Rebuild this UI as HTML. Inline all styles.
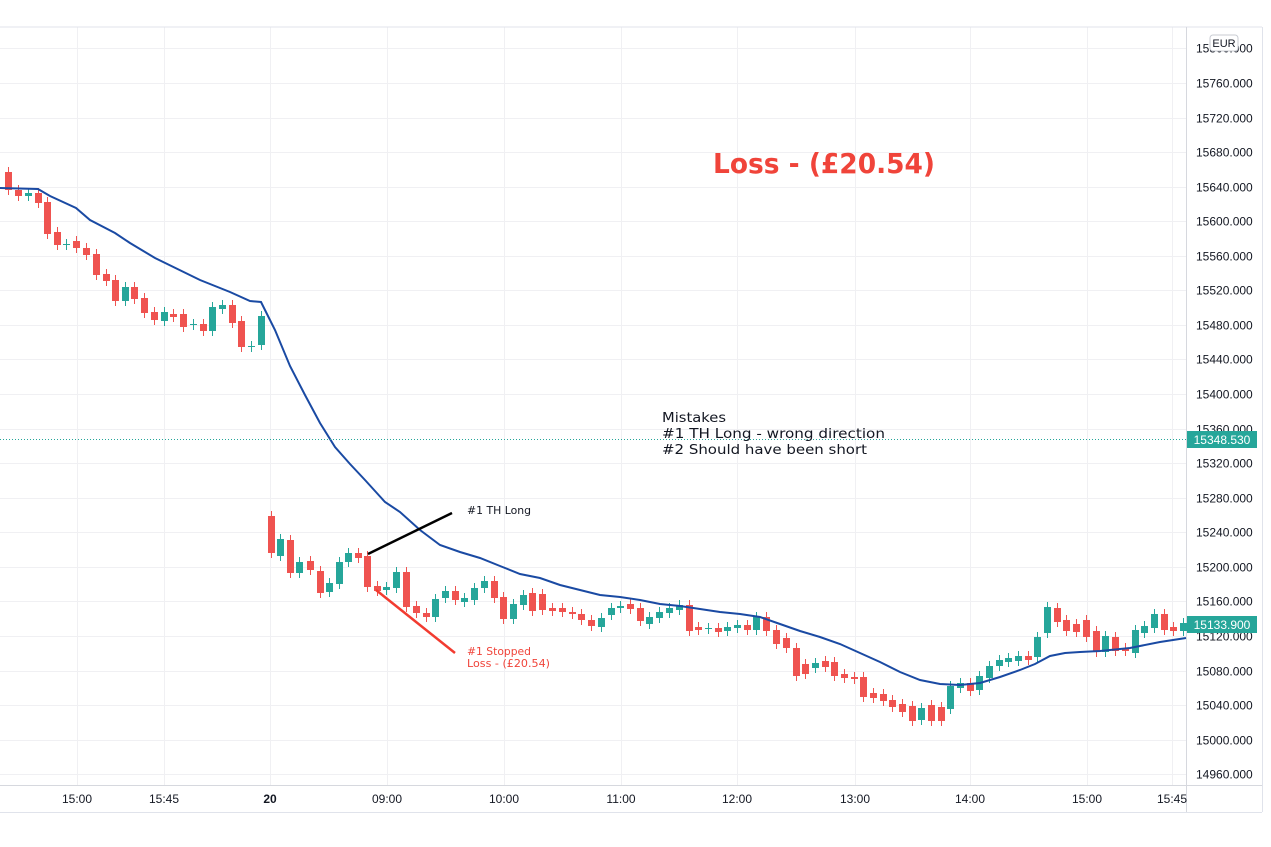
<!DOCTYPE html>
<html><head><meta charset="utf-8"><style>
html,body{margin:0;padding:0;background:#fff;width:1271px;height:847px;overflow:hidden}
svg{display:block;font-family:"Liberation Sans",sans-serif}
</style></head><body>
<svg id="s" width="1271" height="847" viewBox="0 0 1271 847" xmlns="http://www.w3.org/2000/svg">
<rect x="0" y="0" width="1271" height="847" fill="#fff"/>
<g id="grid" stroke="#f0f0f3" stroke-width="1"></g>
<line x1="0" y1="27" x2="1262" y2="27" stroke="#e0e3eb"/>
<line x1="1186.5" y1="27" x2="1186.5" y2="812" stroke="#d6d8de"/>
<line x1="1262.5" y1="27" x2="1262.5" y2="812" stroke="#e0e3eb"/>
<line x1="0" y1="785.5" x2="1262" y2="785.5" stroke="#d6d8de"/>
<line x1="0" y1="812.5" x2="1262" y2="812.5" stroke="#e0e3eb"/>
<g id="c"></g>
<polyline fill="none" stroke="#1a4aa3" stroke-width="2" points="0,188 38,189 50,196 76,208 90,220 115,233 130,243 155,258 200,280 230,292 250,301 261,302 275,330 290,366 305,395 320,423 335,447 350,464 365,480 385,502 400,512 420,530 440,545 460,552 480,558 500,566 520,574 540,578 560,585 580,590 600,595 620,597 640,600 660,604 680,606 700,609 720,612 740,614 760,617 780,624 800,631 820,637 840,644 860,653 880,662 900,672 920,680 940,684 960,685 980,683 1000,677 1020,670 1035,664 1050,656 1065,653 1080,652 1100,651 1130,648 1160,642 1186,638"/>
<line x1="0" y1="439.5" x2="1186" y2="439.5" stroke="#26a69a" stroke-dasharray="1,2"/>
<line x1="368" y1="554" x2="452" y2="513" stroke="#000" stroke-width="2.5"/>
<line x1="376" y1="590" x2="455" y2="653" stroke="#f23b30" stroke-width="2.5"/>
<g font-family="'DejaVu Sans',sans-serif">
<text x="467" y="514" font-size="11" fill="#131722" textLength="64" lengthAdjust="spacingAndGlyphs">#1 TH Long</text>
<text x="467" y="655" font-size="11" fill="#f0443a" textLength="64" lengthAdjust="spacingAndGlyphs">#1 Stopped</text>
<text x="467" y="667" font-size="11" fill="#f0443a" textLength="83" lengthAdjust="spacingAndGlyphs">Loss - (£20.54)</text>
<text x="713" y="173" font-size="28" font-weight="bold" fill="#f0443a" textLength="222" lengthAdjust="spacingAndGlyphs">Loss - (£20.54)</text>
<text x="662" y="422" font-size="13" fill="#131722" textLength="64" lengthAdjust="spacingAndGlyphs">Mistakes</text>
<text x="662" y="438" font-size="13" fill="#131722" textLength="223" lengthAdjust="spacingAndGlyphs">#1  TH Long - wrong direction</text>
<text x="662" y="454" font-size="13" fill="#131722" textLength="205" lengthAdjust="spacingAndGlyphs">#2  Should have been short</text>
</g>
<g id="ax" font-size="12" fill="#131722"></g>
<rect x="1187" y="431" width="70" height="17" fill="#26a69a"/>
<text x="1222" y="444" font-size="12" fill="#fff" text-anchor="middle">15348.530</text>
<rect x="1187" y="616" width="70" height="17" fill="#26a69a"/>
<text x="1222" y="629" font-size="12" fill="#fff" text-anchor="middle">15133.900</text>
<rect x="1210" y="35" width="28" height="16" rx="3" fill="#fff" stroke="#c8cbd2"/>
<text x="1224" y="47" font-size="11" fill="#131722" text-anchor="middle">EUR</text>
</svg>
<script>
var NS="http://www.w3.org/2000/svg";
function el(p,t,a,txt){var e=document.createElementNS(NS,t);for(var k in a)e.setAttribute(k,a[k]);if(txt)e.textContent=txt;p.appendChild(e);return e;}
var g=document.getElementById('grid'),ax=document.getElementById('ax'),c=document.getElementById('c');
function Y(p){return 83+(15760-p)*0.864;}
for(var p=14960;p<=15800;p+=40){var y=Math.round(Y(p))+0.5;el(g,'line',{x1:0,y1:y,x2:1186,y2:y});
 if(p!=15800)el(ax,'text',{x:1196,y:y+4},p.toFixed(3));}
el(ax,'text',{x:1196,y:Math.round(Y(15800))+4.5},'15800.000');
var T=[[77,'15:00'],[164,'15:45'],[270,'20'],[387,'09:00'],[504,'10:00'],[621,'11:00'],[737,'12:00'],[855,'13:00'],[970,'14:00'],[1087,'15:00'],[1172,'15:45']];
T.forEach(function(t){el(g,'line',{x1:t[0]+.5,y1:27,x2:t[0]+.5,y2:785});
 var e=el(ax,'text',{x:t[0],y:803,'text-anchor':'middle'},t[1]);if(t[1]=='20')e.setAttribute('font-weight','bold');});
var C=[[8,172,190,'r'],[18,190,196,'r'],[28,193,196,'t'],[38,193,203,'r'],[47,202,234,'r'],[57,232,245,'r'],[66,244,245,'t'],[76,241,248,'r'],[86,248,255,'r'],[96,254,275,'r'],[106,274,281,'r'],[115,280,301,'r'],[125,287,301,'t'],[134,287,299,'r'],[144,298,313,'r'],[154,312,320,'r'],[164,312,321,'t'],[173,314,317,'r'],[183,314,327,'r'],[193,324,325,'t'],[203,324,331,'r'],[212,307,331,'t'],[222,305,309,'t'],[232,305,323,'r'],[241,321,347,'r'],[251,346,347,'t'],[261,316,345,'t'],
[271,516,553,'r'],[280,539,556,'t'],[290,540,573,'r'],[299,562,573,'t'],[310,561,570,'r'],[320,571,593,'r'],[329,583,592,'t'],[339,562,584,'t'],[348,553,562,'t'],[358,553,558,'r'],[367,556,587,'r'],[377,586,591,'r'],[386,587,590,'t'],[396,572,588,'t'],[406,572,607,'r'],[416,606,613,'r'],[426,613,617,'r'],[435,599,617,'t'],[445,591,598,'t'],[455,591,600,'r'],[464,598,602,'t'],[474,588,600,'t'],[484,581,588,'t'],[494,581,598,'r'],[503,597,619,'r'],[513,604,619,'t'],[523,595,605,'t'],[532,593,611,'r'],[542,594,610,'r'],[552,608,611,'r'],[562,608,612,'r'],[572,612,614,'r'],[581,614,620,'r'],[591,620,626,'r'],[601,618,627,'t'],[611,608,615,'t'],[620,606,608,'t'],[630,604,609,'r'],[640,608,621,'r'],[649,617,624,'t'],[659,612,618,'t'],[669,608,613,'t'],[679,605,610,'t'],[689,605,631,'r'],[698,627,630,'r'],[708,628,629,'t'],[718,628,632,'r'],[727,627,631,'t'],[737,625,628,'t'],[747,625,630,'r'],[756,617,630,'t'],[766,617,631,'r'],[776,630,644,'r'],[786,638,648,'r'],[796,648,676,'r'],[805,664,674,'r'],[815,663,668,'t'],[825,661,667,'r'],[834,662,676,'r'],[844,674,678,'r'],[854,677,679,'r'],[863,677,697,'r'],[873,693,698,'r'],[883,694,701,'r'],[892,700,707,'r'],[902,704,712,'r'],[912,706,721,'r'],[921,708,720,'t'],[931,705,721,'r'],[941,707,721,'r'],[950,686,709,'t'],[960,683,688,'t'],[970,683,691,'r'],[979,676,690,'t'],[989,666,678,'t'],[999,660,666,'t'],[1008,658,662,'t'],[1018,656,661,'t'],[1028,656,660,'r'],[1037,637,657,'t'],[1047,607,633,'t'],[1057,608,622,'r'],[1066,620,631,'r'],[1076,624,632,'r'],[1086,620,637,'r'],[1096,631,652,'r'],[1105,636,652,'t'],[1115,637,651,'r'],[1125,648,651,'r'],[1135,630,653,'t'],[1144,626,633,'t'],[1154,614,628,'t'],[1164,614,630,'r'],[1173,627,631,'r'],[1183,623,631,'t']];
C.forEach(function(d){var col=d[3]=='r'?'#ef5350':'#26a69a';
 el(c,'line',{x1:d[0]+.5,y1:d[1]-5,x2:d[0]+.5,y2:d[2]+5,stroke:col,'stroke-width':1});
 el(c,'rect',{x:d[0]-3,y:d[1],width:7,height:Math.max(1,d[2]-d[1]),fill:col});});
</script>
</body></html>
